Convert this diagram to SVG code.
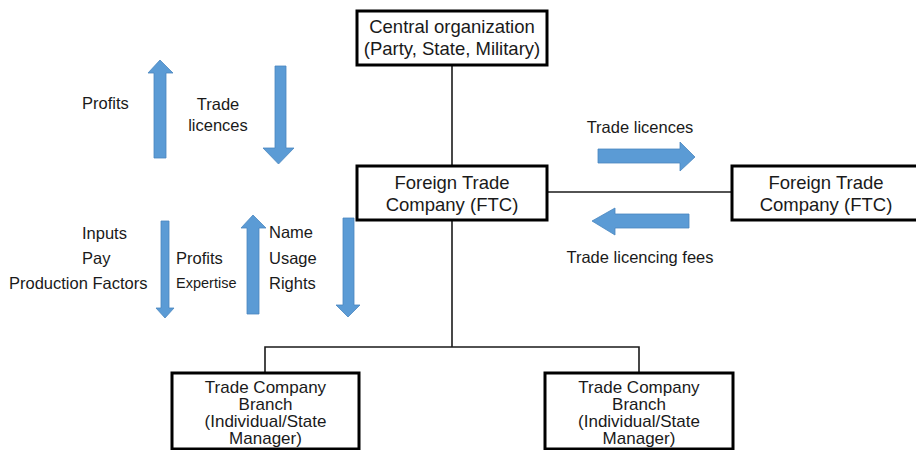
<svg xmlns="http://www.w3.org/2000/svg" width="916" height="450" viewBox="0 0 916 450">
<style>
.box{fill:#fff;stroke:#000;stroke-width:3}
.ln{fill:none;stroke:#1a1a1a;stroke-width:1.6}
.arr{fill:#5b9bd5;stroke:#4a86bf;stroke-width:0.8}
text{font-family:"Liberation Sans",Arial,sans-serif;fill:#1a1a1a}
.bt{font-size:18.5px;text-anchor:middle}
.st{font-size:17px;text-anchor:middle}
.lb{font-size:16.5px}
.c{text-anchor:middle}
</style>
<rect width="916" height="450" fill="#fff"/>
<g id="connectors">
<line class="ln" x1="452" y1="65" x2="452" y2="166"/>
<line class="ln" x1="547" y1="192" x2="732" y2="192"/>
<polyline class="ln" points="452,220 452,347"/>
<polyline class="ln" points="265,373 265,347 639,347 639,373"/>
</g>
<g id="central">
<rect class="box" x="357" y="11" width="190" height="54"/>
<text class="bt" x="452" y="32.5">Central organization</text>
<text class="bt" x="452" y="55">(Party, State, Military)</text>
</g>
<g id="ftc">
<rect class="box" x="357" y="166" width="190" height="54"/>
<text class="bt" x="452" y="188.5">Foreign Trade</text>
<text class="bt" x="452" y="210.5">Company (FTC)</text>
</g>
<g id="ftc-foreign">
<rect class="box" x="732" y="166" width="190" height="54"/>
<text class="bt" x="826" y="188.5">Foreign Trade</text>
<text class="bt" x="826" y="210.5">Company (FTC)</text>
</g>
<g id="branch-left">
<rect class="box" x="172" y="373" width="187" height="76"/>
<text class="st" x="265.5" y="392.5">Trade Company</text>
<text class="st" x="265.5" y="409.8">Branch</text>
<text class="st" x="265.5" y="427.1">(Individual/State</text>
<text class="st" x="265.5" y="444.4">Manager)</text>
</g>
<g id="branch-right">
<rect class="box" x="545" y="373" width="188" height="76"/>
<text class="st" x="639" y="392.5">Trade Company</text>
<text class="st" x="639" y="409.8">Branch</text>
<text class="st" x="639" y="427.1">(Individual/State</text>
<text class="st" x="639" y="444.4">Manager)</text>
</g>
<g id="flows">
<polygon class="arr" points="160,60 173,73 166,73 166,158 154,158 154,73 148,73"/>
<polygon class="arr" points="275,66 286,66 286,148 294,148 278.5,164 263,148 275,148"/>
<polygon class="arr" points="161,221 169,221 169,308 174,308 165,318 156,308 161,308"/>
<polygon class="arr" points="253,215 266,228 259,228 259,314 247,314 247,228 241,228"/>
<polygon class="arr" points="343,218 354,218 354,305 360,305 348,317 336,305 343,305"/>
<polygon class="arr" points="598,149 680,149 680,142 695,157 680,171 680,163 598,163"/>
<polygon class="arr" points="592,221 615,208 615,214 689,214 689,228 615,228 615,235"/>
<text class="lb" x="82" y="109">Profits</text>
<text class="lb c" x="218" y="110">Trade</text>
<text class="lb c" x="218" y="131">licences</text>
<text class="lb" x="82" y="239">Inputs</text>
<text class="lb" x="82" y="264">Pay</text>
<text class="lb" x="9" y="289">Production Factors</text>
<text class="lb" x="176" y="264">Profits</text>
<text x="176" y="288" style="font-size:14.5px">Expertise</text>
<text class="lb" x="269" y="238">Name</text>
<text class="lb" x="269" y="264">Usage</text>
<text class="lb" x="269" y="289">Rights</text>
<text class="lb c" x="640" y="133">Trade licences</text>
<text class="lb c" x="640" y="263">Trade licencing fees</text>
</g>
</svg>
